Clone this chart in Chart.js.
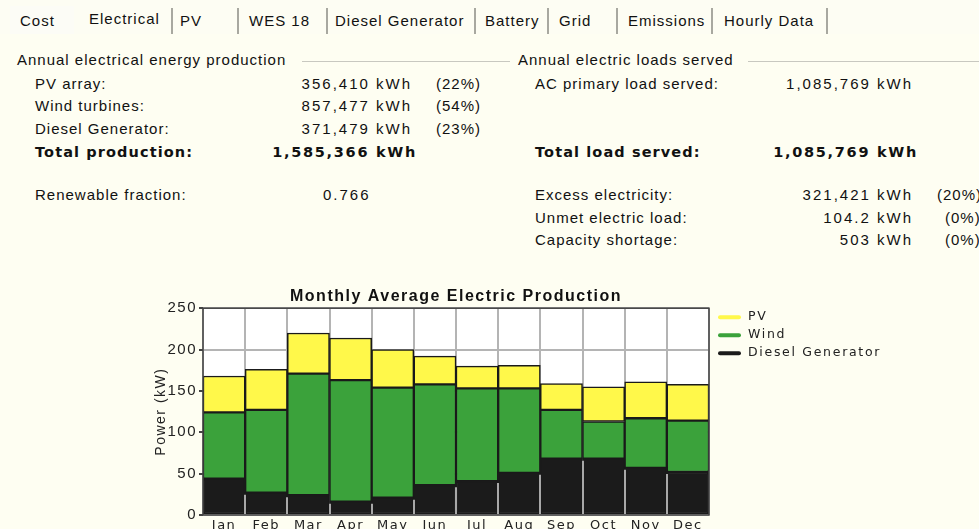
<!DOCTYPE html>
<html>
<head>
<meta charset="utf-8">
<script src="https://cdn.jsdelivr.net/npm/chart.js@4.4.0/dist/chart.umd.min.js"></script>
<style>
  body { margin: 0; background: #fefef2; font-family: "Liberation Sans", Arial, sans-serif; font-size: 15px; color: #111; }
  #page { position: relative; width: 979px; height: 529px; overflow: hidden; }
  .t { position: absolute; white-space: nowrap; line-height: 18px; letter-spacing: 1px; }
  .r { text-align: right; }
  .n { letter-spacing: 2px; margin-right: -2px; }
  .b { font-weight: bold; font-family: "DejaVu Sans", sans-serif; font-size: 14.5px; letter-spacing: 1.1px; }
  .bv { letter-spacing: 1.7px; margin-right: -1.7px; }
  .tabs { position: absolute; left: 0; top: 0; width: 979px; height: 34px; background: #fdfdf3; }
  .tab { position: absolute; top: 6px; height: 28px; background: #fcfcf6; }
  .sep { position: absolute; top: 8px; width: 2px; height: 26px; background: #a8a8a0; }
  .hr { position: absolute; height: 1px; background: #c8c8c0; top: 61px; }
  #wrap { position: absolute; left: 140px; top: 285px; width: 839px; height: 244px; }
</style>
</head>
<body>
<div id="page">
  <div class="tabs"></div>
  <div class="tab" style="left:10px;width:64px"></div>
  <div class="t" style="left:20px;top:12px">Cost</div>
  <div class="t" style="left:89px;top:10px">Electrical</div>
  <div class="sep" style="left:171px"></div>
  <div class="t" style="left:180px;top:12px">PV</div>
  <div class="sep" style="left:237px"></div>
  <div class="t" style="left:249px;top:12px">WES 18</div>
  <div class="sep" style="left:326px"></div>
  <div class="t" style="left:335px;top:12px">Diesel Generator</div>
  <div class="sep" style="left:474px"></div>
  <div class="t" style="left:485px;top:12px">Battery</div>
  <div class="sep" style="left:547px"></div>
  <div class="t" style="left:559px;top:12px">Grid</div>
  <div class="sep" style="left:616px"></div>
  <div class="t" style="left:628px;top:12px">Emissions</div>
  <div class="sep" style="left:711px"></div>
  <div class="t" style="left:724px;top:12px">Hourly Data</div>
  <div class="sep" style="left:826px"></div>

  <div class="t" style="left:17px;top:51px">Annual electrical energy production</div>
  <div class="hr" style="left:302px;width:208px"></div>
  <div class="t" style="left:518px;top:51px">Annual electric loads served</div>
  <div class="hr" style="left:748px;width:231px"></div>

  <div class="t" style="left:35px;top:75px">PV array:</div>
  <div class="t r n" style="left:250px;width:162px;top:75px">356,410 kWh</div>
  <div class="t" style="left:436px;top:75px">(22%)</div>
  <div class="t" style="left:35px;top:97px">Wind turbines:</div>
  <div class="t r n" style="left:250px;width:162px;top:97px">857,477 kWh</div>
  <div class="t" style="left:436px;top:97px">(54%)</div>
  <div class="t" style="left:35px;top:120px">Diesel Generator:</div>
  <div class="t r n" style="left:250px;width:162px;top:120px">371,479 kWh</div>
  <div class="t" style="left:436px;top:120px">(23%)</div>
  <div class="t b" style="left:35px;top:143px">Total production:</div>
  <div class="t r b bv" style="left:220px;width:197px;top:143px">1,585,366 kWh</div>
  <div class="t" style="left:35px;top:186px">Renewable fraction:</div>
  <div class="t n" style="left:323px;top:186px">0.766</div>

  <div class="t" style="left:535px;top:75px">AC primary load served:</div>
  <div class="t r n" style="left:740px;width:173px;top:75px">1,085,769 kWh</div>
  <div class="t b" style="left:535px;top:143px">Total load served:</div>
  <div class="t r b bv" style="left:720px;width:198px;top:143px">1,085,769 kWh</div>
  <div class="t" style="left:535px;top:186px">Excess electricity:</div>
  <div class="t r n" style="left:740px;width:173px;top:186px">321,421 kWh</div>
  <div class="t" style="left:937px;top:186px">(20%)</div>
  <div class="t" style="left:535px;top:209px">Unmet electric load:</div>
  <div class="t r n" style="left:740px;width:173px;top:209px">104.2 kWh</div>
  <div class="t" style="left:945px;top:209px">(0%)</div>
  <div class="t" style="left:535px;top:231px">Capacity shortage:</div>
  <div class="t r n" style="left:740px;width:173px;top:231px">503 kWh</div>
  <div class="t" style="left:945px;top:231px">(0%)</div>

  <div id="wrap"><canvas id="myChart" width="839" height="244"></canvas></div>
</div>
<script>
const months = ['Jan', 'Feb', 'Mar', 'Apr', 'May', 'Jun', 'Jul', 'Aug', 'Sep', 'Oct', 'Nov', 'Dec'];
const dieselKW = [44, 27, 24, 16, 21, 36, 41, 51, 68, 68, 57, 52];
const windKW = [80, 100, 147, 147, 133, 122, 112, 102, 59, 45, 60, 62];
const pvKW = [44, 49, 49, 51, 46, 34, 27, 28, 32, 42, 44, 44];
const yTicks = [0, 50, 100, 150, 200, 250];

// white plot, frame, gray seams between the black bars, and the legend
const plotBits = {
  id: 'plotBits',
  beforeDraw(chart) {
    const a = chart.chartArea, c = chart.ctx;
    c.letterSpacing = '1.5px';
    c.save();
    c.fillStyle = '#ffffff';
    c.fillRect(a.left, a.top, a.right - a.left, a.bottom - a.top);
    c.restore();
  },
  afterDraw(chart) {
    const a = chart.chartArea, c = chart.ctx;
    const bars = chart.getDatasetMeta(0).data;
    c.save();
    c.strokeStyle = '#a8a8a8';
    c.lineWidth = 2;
    for (let i = 0; i < bars.length - 1; i++) {
      const x = Math.round((bars[i].x + bars[i + 1].x) / 2);
      const top = Math.max(bars[i].y, bars[i + 1].y) + 2;
      c.beginPath();
      c.moveTo(x, a.bottom);
      c.lineTo(x, top);
      c.stroke();
    }
    c.strokeStyle = '#444';
    c.lineWidth = 1.5;
    c.strokeRect(a.left, a.top, a.right - a.left, a.bottom - a.top);
    const sets = chart.data.datasets.slice().reverse();
    c.font = '12.5px "DejaVu Sans", sans-serif';
    c.letterSpacing = '1.7px';
    c.textBaseline = 'middle';
    sets.forEach(function (ds, i) {
      const y = a.top + 9 + i * 18;
      c.strokeStyle = ds.backgroundColor;
      c.lineWidth = 4;
      c.lineCap = 'round';
      c.beginPath();
      c.moveTo(a.right + 11, y);
      c.lineTo(a.right + 30, y);
      c.stroke();
      c.fillStyle = '#222';
      c.fillText(ds.label, a.right + 39, y);
    });
    c.restore();
  }
};

new Chart(document.getElementById('myChart'), {
  type: 'bar',
  data: {
    labels: months,
    datasets: [
      { label: 'Diesel Generator', data: dieselKW, backgroundColor: '#1b1b1b' },
      { label: 'Wind', data: windKW, backgroundColor: '#3ba23b' },
      { label: 'PV', data: pvKW, backgroundColor: '#fff84a' }
    ]
  },
  options: {
    responsive: false,
    animation: false,
    layout: { padding: { left: 13, right: 270, top: 0, bottom: 0 } },
    datasets: {
      bar: {
        categoryPercentage: 1,
        barPercentage: 1,
        borderColor: '#1a1a1a',
        borderWidth: 1.5,
        borderSkipped: false
      }
    },
    plugins: {
      legend: { display: false },
      tooltip: { enabled: false },
      title: {
        display: true,
        fullSize: false,
        text: 'Monthly Average Electric Production',
        color: '#111',
        font: { family: 'Liberation Sans', size: 16, weight: 'bold' },
        padding: { top: 2, bottom: 2 }
      }
    },
    scales: {
      x: {
        stacked: true,
        grid: { color: '#b4b4b4', lineWidth: 2, offset: true, drawTicks: false },
        border: { display: false },
        ticks: { color: '#222', padding: 3, font: { family: 'DejaVu Sans', size: 13 } },
        afterFit(s) { s.height = 14; }
      },
      y: {
        stacked: true,
        min: 0,
        max: 250,
        afterBuildTicks(s) { s.ticks = yTicks.map(v => ({ value: v })); },
        grid: { color: '#b4b4b4', lineWidth: 2, tickLength: 4, tickColor: '#444' },
        border: { display: false },
        ticks: { color: '#222', padding: 2, font: { family: 'Liberation Sans', size: 15 } },
        title: { display: true, text: 'Power (kW)', color: '#222', padding: { top: 0, bottom: 2 }, font: { family: 'Liberation Sans', size: 14 } },
        afterFit(s) { s.width = 50; }
      }
    }
  },
  plugins: [plotBits]
});
</script>
</body>
</html>
